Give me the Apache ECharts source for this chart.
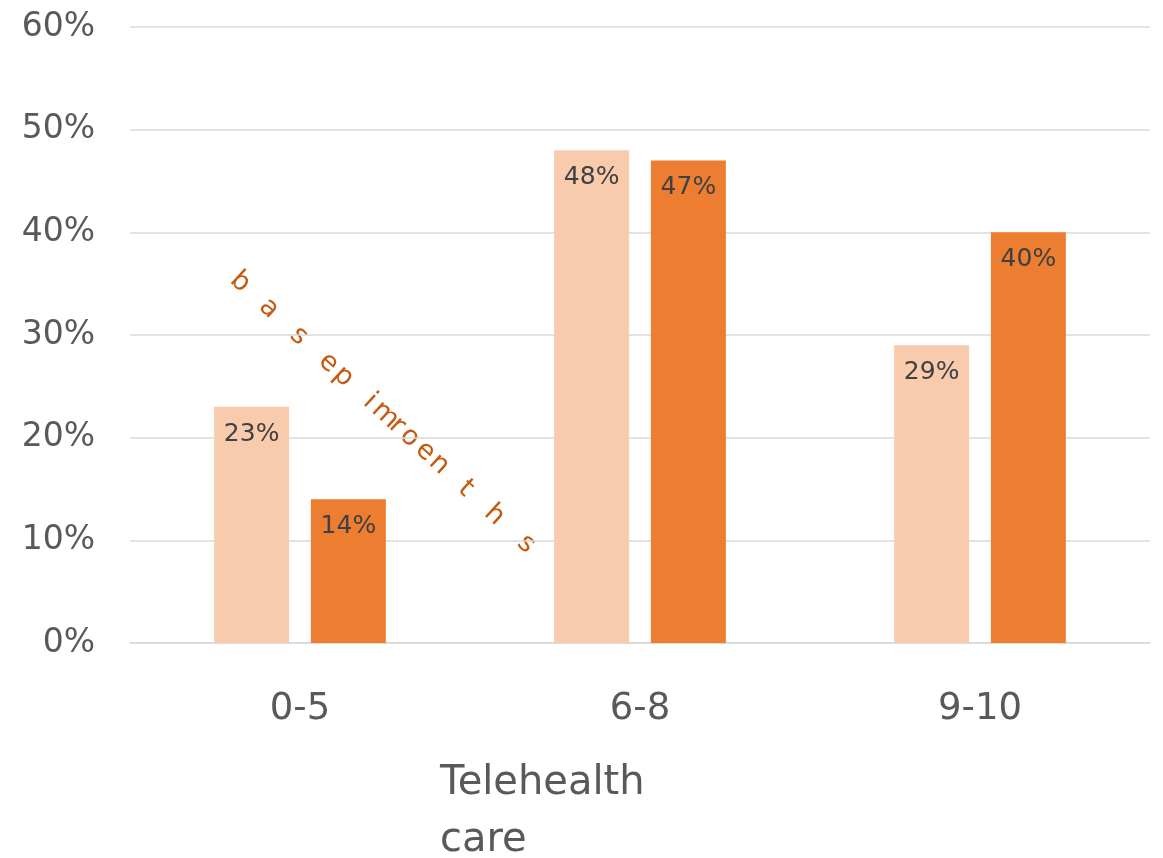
<!DOCTYPE html>
<html>
<head>
<meta charset="utf-8">
<script src="https://cdn.jsdelivr.net/npm/echarts@6/dist/echarts.min.js"></script>
<style>
  html, body { margin: 0; padding: 0; background: #fff; }
  #chart { width: 1163px; height: 858px; }
</style>
</head>
<body>
<div id="chart"></div>
<script>
// Score bands on the x axis
const categories = ['0-5', '6-8', '9-10'];
// Share of respondents in each band (percent)
const baselineValues = [23, 48, 29];
const followUpValues = [14, 47, 40];
// Y axis ticks
const yTicks = [0, 10, 20, 30, 40, 50, 60];
// Scattered legend glyphs running diagonally across the plot
const legendGlyphs = ['b', 'a', 's', 'e', 'p', 'i', 'm', 'r', 'o', 'e', 'n', 't', 'h', 's'];
const glyphSteps = [0, 39, 80, 120, 140, 176, 197, 213, 230, 251, 270, 306, 345, 388];

const font = '"DejaVu Sans", "Liberation Sans", sans-serif';
const chart = echarts.init(document.getElementById('chart'));

const start = [240, 282];
const angle = Math.atan2(273, 298);
const glyphs = legendGlyphs.map((ch, i) => ({
  type: 'text',
  x: start[0] + glyphSteps[i] * Math.cos(angle),
  y: start[1] + glyphSteps[i] * Math.sin(angle),
  rotation: -angle,
  style: {
    text: ch,
    fill: '#C55A11',
    font: '27px ' + font,
    align: 'center',
    verticalAlign: 'middle'
  }
}));

const barLabel = {
  show: true, position: 'insideTop', distance: 15,
  color: '#404040', fontSize: 25, fontFamily: font,
  formatter: p => p.value + '%'
};

chart.setOption({
  animation: false,
  grid: { left: 130, right: 13, top: 27, bottom: 215 },
  xAxis: {
    type: 'category',
    data: categories,
    axisLine: { lineStyle: { color: '#D9D9D9', width: 1.5 } },
    axisTick: { show: false },
    axisLabel: { color: '#595959', fontSize: 37, fontFamily: font, margin: 48 }
  },
  yAxis: {
    type: 'value',
    min: yTicks[0],
    max: yTicks[yTicks.length - 1],
    interval: 10,
    axisLine: { show: false },
    axisTick: { show: false },
    splitLine: { lineStyle: { color: '#D9D9D9', width: 1.5 } },
    axisLabel: {
      color: '#595959', fontSize: 33, fontFamily: font, margin: 35,
      formatter: v => v + '%'
    }
  },
  series: [
    {
      name: 'baseline',
      type: 'bar',
      data: baselineValues,
      barWidth: 75,
      barGap: '29%',
      itemStyle: { color: '#F8CBAD' },
      label: barLabel
    },
    {
      name: 'months',
      type: 'bar',
      data: followUpValues,
      barWidth: 75,
      itemStyle: { color: '#ED7D31' },
      label: barLabel
    }
  ],
  graphic: [
    {
      type: 'text',
      left: 440,
      top: 755,
      style: {
        text: 'Telehealth\ncare',
        fill: '#595959',
        font: '40px ' + font,
        lineHeight: 57
      }
    }
  ].concat(glyphs)
});
</script>
</body>
</html>
